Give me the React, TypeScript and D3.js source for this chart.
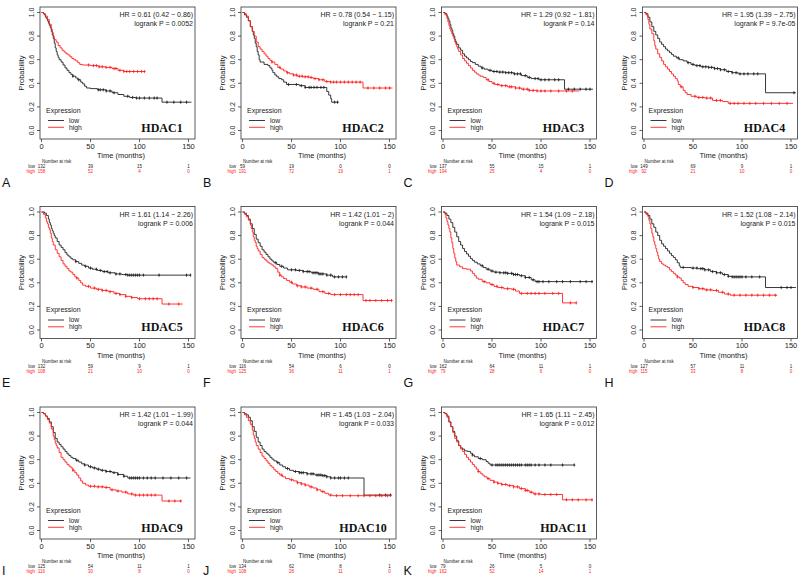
import React from 'react';
import * as d3 from 'd3';

// panel labels and stats
const genes = ['HDAC1', 'HDAC2', 'HDAC3', 'HDAC4', 'HDAC5', 'HDAC6', 'HDAC7', 'HDAC8', 'HDAC9', 'HDAC10', 'HDAC11'];
const letters = ['A', 'B', 'C', 'D', 'E', 'F', 'G', 'H', 'I', 'J', 'K'];
const hrLabels = [
  'HR = 0.61 (0.42 − 0.86)', 'HR = 0.78 (0.54 − 1.15)', 'HR = 1.29 (0.92 − 1.81)', 'HR = 1.95 (1.39 − 2.75)',
  'HR = 1.61 (1.14 − 2.26)', 'HR = 1.42 (1.01 − 2)', 'HR = 1.54 (1.09 − 2.18)', 'HR = 1.52 (1.08 − 2.14)',
  'HR = 1.42 (1.01 − 1.99)', 'HR = 1.45 (1.03 − 2.04)', 'HR = 1.65 (1.11 − 2.45)',
];
const pLabels = [
  'logrank P = 0.0052', 'logrank P = 0.21', 'logrank P = 0.14', 'logrank P = 9.7e-05',
  'logrank P = 0.006', 'logrank P = 0.044', 'logrank P = 0.015', 'logrank P = 0.015',
  'logrank P = 0.044', 'logrank P = 0.033', 'logrank P = 0.012',
];

const xTicks = [0, 50, 100, 150];
const yTicks = [0, 0.2, 0.4, 0.6, 0.8, 1.0];
const riskTimes = [0, 50, 100, 150];

const riskLow = [
  [132, 39, 15, 1], [59, 19, 0, 0], [137, 55, 15, 1], [149, 69, 9, 1],
  [132, 59, 9, 1], [116, 54, 6, 0], [162, 64, 11, 1], [127, 57, 11, 1],
  [125, 54, 11, 1], [134, 62, 8, 1], [79, 26, 5, 0],
];
const riskHigh = [
  [158, 52, 4, 0], [191, 72, 19, 1], [194, 25, 4, 0], [92, 21, 10, 0],
  [108, 21, 10, 0], [125, 36, 11, 1], [79, 28, 6, 0], [115, 33, 8, 0],
  [116, 30, 8, 0], [108, 28, 11, 0], [162, 52, 14, 1],
];

type Pt = [number, number];

// survival steps [month, probability]
const hdac1Low: Pt[] = [[0,1],[2,0.99],[3,0.98],[4,0.96],[5,0.95],[6,0.93],[7,0.91],[8,0.89],[9,0.87],[10,0.84],[11,0.81],[12,0.78],[13,0.74],[14,0.7],[15,0.67],[16,0.64],[17,0.62],[18,0.6],[20,0.58],[22,0.555],[24,0.53],[26,0.51],[28,0.49],[30,0.475],[32,0.46],[35,0.445],[37,0.43],[40,0.41],[42,0.395],[44,0.375],[46,0.36],[50,0.355],[57,0.345],[66,0.335],[72,0.32],[78,0.305],[84,0.29],[90,0.28],[96,0.275],[123,0.24],[153,0.24]];
const hdac1High: Pt[] = [[0,1],[2,0.99],[4,0.97],[6,0.94],[8,0.9],[10,0.86],[11,0.83],[12,0.8],[13,0.77],[15,0.75],[17,0.72],[19,0.7],[21,0.68],[23,0.665],[25,0.65],[27,0.64],[29,0.625],[31,0.61],[33,0.6],[35,0.59],[37,0.575],[39,0.56],[42,0.555],[50,0.55],[58,0.54],[65,0.535],[72,0.525],[78,0.51],[84,0.5],[106,0.5]];
const hdac1LowCens = [32,38,58,60,63,66,70,74,88,93,97,100,105,110,115,118,128,135,142,148];
const hdac1HighCens = [48,53,56,59,62,66,70,74,76,80,84,87,90,94,98,102,105];

const hdac2Low: Pt[] = [[0,1],[2,0.98],[4,0.96],[6,0.93],[8,0.88],[10,0.84],[11,0.81],[12,0.78],[13,0.74],[14,0.71],[15,0.67],[16,0.64],[17,0.6],[18,0.58],[22,0.56],[26,0.55],[28,0.53],[30,0.51],[31,0.49],[33,0.47],[35,0.455],[37,0.44],[40,0.43],[42,0.41],[45,0.39],[58,0.38],[64,0.365],[86,0.33],[88,0.3],[90,0.27],[91,0.24],[98,0.24]];
const hdac2High: Pt[] = [[0,1],[2,0.99],[4,0.97],[6,0.93],[8,0.88],[10,0.84],[12,0.8],[14,0.75],[16,0.71],[18,0.69],[20,0.67],[22,0.65],[24,0.63],[26,0.61],[28,0.595],[30,0.58],[33,0.56],[36,0.535],[39,0.52],[42,0.505],[45,0.49],[48,0.48],[52,0.47],[56,0.46],[62,0.455],[68,0.45],[72,0.44],[78,0.43],[84,0.415],[90,0.41],[123,0.36],[153,0.36]];
const hdac2LowCens = [47,55,60,64,68,70,73,76,80,83,94,97];
const hdac2HighCens = [30,38,46,52,55,58,61,64,67,70,74,78,82,86,90,93,96,100,104,108,112,116,120,128,134,140,146,150];

const hdac3Low: Pt[] = [[0,1],[2,0.99],[4,0.97],[5,0.95],[6,0.93],[7,0.9],[8,0.87],[9,0.85],[10,0.82],[11,0.8],[12,0.77],[13,0.75],[14,0.73],[16,0.7],[18,0.68],[20,0.65],[22,0.63],[24,0.615],[26,0.6],[28,0.585],[30,0.575],[33,0.56],[36,0.545],[39,0.53],[42,0.52],[46,0.51],[50,0.5],[56,0.495],[64,0.49],[72,0.48],[80,0.465],[86,0.45],[90,0.44],[98,0.43],[124,0.35],[153,0.35]];
const hdac3High: Pt[] = [[0,1],[2,0.98],[4,0.95],[5,0.92],[6,0.89],[7,0.86],[8,0.84],[9,0.82],[10,0.8],[11,0.78],[12,0.75],[13,0.73],[14,0.71],[15,0.69],[16,0.67],[18,0.64],[20,0.61],[22,0.59],[24,0.57],[26,0.55],[28,0.53],[30,0.51],[32,0.495],[34,0.48],[36,0.47],[38,0.46],[41,0.45],[44,0.43],[47,0.415],[50,0.4],[53,0.39],[58,0.38],[66,0.37],[74,0.36],[80,0.35],[88,0.34],[96,0.335],[139,0.335]];
const hdac3LowCens = [40,48,52,55,58,61,64,67,70,73,76,79,84,88,94,97,100,104,108,114,118,128,134,140,146,150];
const hdac3HighCens = [46,52,56,60,64,68,70,74,78,82,86,88,92,96,100,104,110,118,126,132];

const hdac4Low: Pt[] = [[0,1],[2,0.99],[4,0.96],[6,0.92],[8,0.88],[10,0.84],[12,0.81],[14,0.78],[16,0.75],[18,0.73],[20,0.71],[22,0.69],[24,0.675],[26,0.66],[28,0.645],[30,0.63],[33,0.615],[36,0.6],[40,0.59],[44,0.575],[48,0.56],[52,0.55],[58,0.54],[66,0.535],[72,0.525],[78,0.515],[84,0.5],[90,0.49],[96,0.48],[124,0.32],[155,0.32]];
const hdac4High: Pt[] = [[0,1],[2,0.98],[4,0.94],[5,0.9],[6,0.86],[8,0.82],[10,0.76],[11,0.72],[12,0.69],[14,0.65],[16,0.62],[18,0.59],[20,0.56],[22,0.54],[24,0.52],[26,0.5],[28,0.48],[30,0.46],[32,0.44],[34,0.42],[35,0.39],[37,0.37],[40,0.34],[42,0.32],[44,0.305],[48,0.29],[54,0.28],[62,0.275],[70,0.255],[80,0.245],[86,0.23],[152,0.23]];
const hdac4LowCens = [35,45,50,54,57,60,63,66,69,72,75,78,82,86,90,94,98,102,106,112,116,153];
const hdac4HighCens = [38,52,56,60,64,68,74,78,88,92,96,102,108,114,122,130,138,146];

const hdac5Low: Pt[] = [[0,1],[3,0.99],[5,0.97],[7,0.94],[8,0.91],[9,0.89],[10,0.86],[11,0.84],[12,0.82],[13,0.8],[14,0.78],[16,0.75],[18,0.72],[20,0.7],[22,0.68],[24,0.655],[26,0.635],[28,0.62],[30,0.605],[32,0.595],[35,0.58],[38,0.565],[41,0.55],[44,0.54],[48,0.525],[52,0.515],[57,0.505],[62,0.495],[68,0.485],[75,0.475],[82,0.47],[88,0.465],[152,0.465]];
const hdac5High: Pt[] = [[0,1],[2,0.98],[4,0.95],[5,0.92],[6,0.9],[7,0.87],[8,0.85],[9,0.82],[10,0.78],[11,0.75],[12,0.72],[14,0.68],[16,0.65],[18,0.62],[20,0.59],[22,0.56],[24,0.54],[26,0.52],[28,0.5],[30,0.49],[32,0.47],[34,0.45],[36,0.44],[38,0.42],[40,0.4],[42,0.38],[45,0.37],[50,0.355],[56,0.345],[62,0.335],[68,0.325],[74,0.31],[80,0.3],[86,0.285],[92,0.275],[98,0.265],[123,0.22],[144,0.22]];
const hdac5LowCens = [35,45,50,56,60,64,67,70,76,80,86,88,90,92,94,96,98,100,104,120,148,152];
const hdac5HighCens = [36,48,54,58,62,66,70,76,80,86,92,100,106,110,114,118,130,140];

const hdac6Low: Pt[] = [[0,1],[2,0.99],[4,0.97],[6,0.94],[8,0.9],[10,0.86],[12,0.81],[14,0.77],[16,0.74],[18,0.71],[20,0.68],[22,0.66],[24,0.64],[26,0.62],[28,0.6],[30,0.585],[32,0.57],[35,0.555],[38,0.54],[42,0.525],[46,0.51],[55,0.505],[62,0.495],[70,0.485],[78,0.475],[86,0.465],[92,0.45],[106,0.45]];
const hdac6High: Pt[] = [[0,1],[2,0.98],[4,0.96],[6,0.93],[8,0.89],[9,0.86],[10,0.83],[11,0.79],[12,0.76],[13,0.74],[14,0.71],[15,0.69],[16,0.67],[18,0.64],[20,0.615],[22,0.6],[24,0.585],[26,0.57],[28,0.56],[30,0.55],[32,0.535],[34,0.52],[36,0.49],[38,0.465],[40,0.45],[42,0.435],[45,0.42],[48,0.405],[51,0.39],[55,0.375],[60,0.365],[66,0.355],[72,0.345],[78,0.325],[84,0.31],[90,0.3],[123,0.25],[153,0.25]];
const hdac6LowCens = [34,40,50,54,58,62,66,68,72,74,76,78,80,82,86,90,94,98,102,106];
const hdac6HighCens = [38,50,56,60,64,70,76,82,88,94,100,106,110,114,118,126,130,136,142,148,152];

const hdac7Low: Pt[] = [[0,1],[2,0.99],[4,0.97],[6,0.94],[8,0.91],[10,0.87],[12,0.83],[14,0.79],[16,0.75],[18,0.72],[20,0.69],[22,0.665],[24,0.645],[26,0.625],[28,0.605],[30,0.59],[32,0.575],[35,0.56],[38,0.545],[41,0.53],[44,0.515],[48,0.5],[52,0.49],[58,0.485],[66,0.48],[72,0.47],[78,0.46],[84,0.445],[90,0.425],[94,0.41],[153,0.41]];
const hdac7High: Pt[] = [[0,1],[2,0.98],[3,0.95],[4,0.92],[5,0.89],[6,0.86],[7,0.83],[8,0.78],[9,0.74],[10,0.69],[11,0.65],[12,0.61],[13,0.58],[14,0.55],[17,0.535],[20,0.52],[24,0.515],[28,0.5],[30,0.48],[32,0.46],[34,0.44],[36,0.43],[40,0.41],[44,0.4],[48,0.385],[52,0.37],[56,0.36],[62,0.35],[70,0.345],[74,0.33],[78,0.31],[122,0.23],[136,0.23]];
const hdac7LowCens = [40,46,50,54,58,62,64,66,70,72,74,76,80,84,88,92,96,98,102,108,116,122,130,140,146,152];
const hdac7HighCens = [42,50,55,60,66,72,80,86,90,94,98,104,112,118,130,136];

const hdac8Low: Pt[] = [[0,1],[2,0.99],[4,0.97],[6,0.94],[8,0.9],[10,0.87],[12,0.83],[14,0.8],[16,0.76],[18,0.73],[20,0.71],[22,0.69],[24,0.67],[26,0.65],[28,0.63],[30,0.615],[32,0.595],[34,0.57],[36,0.545],[37,0.53],[48,0.525],[55,0.52],[62,0.51],[68,0.495],[74,0.485],[80,0.47],[86,0.455],[90,0.45],[124,0.36],[155,0.36]];
const hdac8High: Pt[] = [[0,1],[2,0.98],[4,0.96],[5,0.93],[6,0.9],[7,0.86],[8,0.82],[9,0.79],[10,0.75],[11,0.72],[12,0.69],[13,0.66],[14,0.63],[15,0.6],[16,0.58],[18,0.56],[20,0.55],[22,0.54],[24,0.53],[26,0.51],[28,0.495],[30,0.48],[32,0.465],[34,0.45],[36,0.44],[38,0.42],[40,0.4],[42,0.385],[45,0.37],[50,0.36],[56,0.35],[62,0.34],[70,0.335],[76,0.32],[82,0.305],[88,0.295],[136,0.295]];
const hdac8LowCens = [40,50,54,58,60,62,66,70,74,78,82,86,90,92,94,96,98,100,104,110,118,140,146,150];
const hdac8HighCens = [34,50,56,60,64,68,74,80,86,92,98,104,110,116,122,128,134];

const hdac9Low: Pt[] = [[0,1],[2,0.99],[4,0.97],[6,0.95],[8,0.92],[10,0.88],[12,0.83],[14,0.78],[16,0.75],[18,0.73],[20,0.71],[22,0.69],[24,0.67],[26,0.65],[28,0.635],[30,0.62],[32,0.61],[35,0.595],[38,0.58],[41,0.565],[44,0.555],[48,0.54],[52,0.53],[56,0.52],[60,0.51],[66,0.5],[72,0.49],[78,0.475],[84,0.46],[88,0.445],[152,0.445]];
const hdac9High: Pt[] = [[0,1],[2,0.99],[4,0.97],[6,0.94],[8,0.91],[10,0.86],[12,0.8],[13,0.77],[14,0.74],[15,0.72],[16,0.7],[18,0.66],[20,0.62],[22,0.6],[24,0.58],[26,0.56],[28,0.545],[30,0.53],[32,0.51],[34,0.49],[36,0.47],[38,0.445],[40,0.42],[42,0.4],[45,0.385],[48,0.375],[56,0.37],[64,0.365],[70,0.345],[76,0.335],[82,0.325],[88,0.31],[94,0.3],[123,0.25],[143,0.25]];
const hdac9LowCens = [36,44,50,54,58,62,66,70,74,78,84,90,92,94,96,98,100,104,108,112,116,124,132,140,148];
const hdac9HighCens = [32,50,54,58,62,66,72,78,86,92,96,100,104,108,112,116,130,136,142];

const hdac10Low: Pt[] = [[0,1],[2,0.99],[4,0.98],[6,0.96],[8,0.93],[10,0.88],[12,0.84],[14,0.79],[16,0.75],[18,0.72],[20,0.69],[22,0.67],[24,0.655],[26,0.64],[28,0.62],[30,0.605],[32,0.59],[35,0.575],[38,0.555],[41,0.54],[44,0.525],[48,0.51],[52,0.5],[58,0.49],[66,0.48],[74,0.47],[82,0.465],[86,0.455],[90,0.445],[124,0.3],[152,0.3]];
const hdac10High: Pt[] = [[0,1],[2,0.98],[4,0.96],[6,0.93],[8,0.9],[10,0.85],[11,0.81],[12,0.78],[13,0.75],[14,0.72],[16,0.69],[18,0.66],[20,0.63],[22,0.61],[24,0.59],[26,0.57],[28,0.55],[30,0.535],[32,0.515],[34,0.5],[36,0.485],[38,0.47],[41,0.455],[44,0.44],[48,0.43],[52,0.42],[56,0.405],[60,0.395],[64,0.385],[68,0.37],[72,0.36],[76,0.345],[80,0.33],[84,0.315],[88,0.3],[92,0.295],[152,0.295]];
const hdac10LowCens = [36,46,54,58,60,62,66,70,72,76,78,80,82,84,86,90,94,98,100,104,108,140,146,151];
const hdac10HighCens = [40,50,56,60,64,70,76,82,90,96,102,110,118,124,130,136,142,148];

const hdac11Low: Pt[] = [[0,1],[2,0.99],[4,0.97],[6,0.92],[8,0.88],[10,0.84],[12,0.8],[14,0.76],[16,0.72],[18,0.7],[20,0.69],[22,0.675],[25,0.67],[28,0.655],[30,0.64],[32,0.625],[36,0.61],[40,0.6],[44,0.585],[46,0.57],[48,0.555],[134,0.555]];
const hdac11High: Pt[] = [[0,1],[2,0.99],[4,0.96],[6,0.92],[8,0.88],[10,0.83],[12,0.78],[14,0.75],[16,0.72],[18,0.69],[20,0.67],[22,0.645],[24,0.62],[26,0.6],[28,0.58],[30,0.56],[32,0.54],[34,0.52],[36,0.5],[38,0.485],[40,0.47],[42,0.455],[45,0.44],[48,0.425],[52,0.41],[56,0.4],[60,0.39],[66,0.38],[72,0.37],[78,0.355],[84,0.34],[88,0.325],[92,0.31],[100,0.305],[122,0.26],[153,0.26]];
const hdac11LowCens = [30,38,50,54,56,58,60,62,64,66,68,70,72,74,76,78,80,84,86,88,90,94,98,104,110,122,134];
const hdac11HighCens = [36,46,52,56,60,64,68,72,76,80,84,86,90,94,98,104,110,116,126,132,138,146,152];

const lowCurves = [hdac1Low, hdac2Low, hdac3Low, hdac4Low, hdac5Low, hdac6Low, hdac7Low, hdac8Low, hdac9Low, hdac10Low, hdac11Low];
const highCurves = [hdac1High, hdac2High, hdac3High, hdac4High, hdac5High, hdac6High, hdac7High, hdac8High, hdac9High, hdac10High, hdac11High];
const lowCens = [hdac1LowCens, hdac2LowCens, hdac3LowCens, hdac4LowCens, hdac5LowCens, hdac6LowCens, hdac7LowCens, hdac8LowCens, hdac9LowCens, hdac10LowCens, hdac11LowCens];
const highCens = [hdac1HighCens, hdac2HighCens, hdac3HighCens, hdac4HighCens, hdac5HighCens, hdac6HighCens, hdac7HighCens, hdac8HighCens, hdac9HighCens, hdac10HighCens, hdac11HighCens];

const COL_X = [0, 201, 401.5, 602.5];
const ROW_Y = [0, 199.5, 400];
const LOW_COLOR = '#222';
const HIGH_COLOR = '#ff2020';
const FONT = 'Liberation Sans, Arial, sans-serif';

// value of the step curve at time t
const survAt = (curve: Pt[], t: number) => {
  let s = curve[0][1];
  for (const p of curve) if (p[0] <= t) s = p[1];
  return s;
};

const Panel = ({ i }: { i: number }) => {
  const ox = COL_X[i % 4];
  const oy = ROW_Y[Math.floor(i / 4)];
  const x = d3.scaleLinear().domain([0, 150]).range([41.5, 188.5]);
  const y = d3.scaleLinear().domain([0, 1]).range([130.5, 12.5]);
  const box = { l: 40, r: 195, t: 7, b: 139 };
  const line = d3.line<Pt>().x((d) => x(d[0])).y((d) => y(d[1])).curve(d3.curveStepAfter);

  const curves = [
    { pts: lowCurves[i], cens: lowCens[i], color: LOW_COLOR },
    { pts: highCurves[i], cens: highCens[i], color: HIGH_COLOR },
  ];
  const letterY = Math.min(oy + 187, 574.5) - oy;

  return (
    <g transform={`translate(${ox},${oy})`} fontFamily={FONT}>
      <rect x={box.l} y={box.t} width={box.r - box.l} height={box.b - box.t} fill="none" stroke="#333" strokeWidth={0.8} />
      {yTicks.map((v) => (
        <g key={v}>
          <line x1={box.l - 3} x2={box.l} y1={y(v)} y2={y(v)} stroke="#333" strokeWidth={0.8} />
          <text transform={`translate(31.5,${y(v)}) rotate(-90)`} dy="0.35em" textAnchor="middle" fontSize={7} fill="#222">
            {v.toFixed(1)}
          </text>
        </g>
      ))}
      {xTicks.map((v) => (
        <g key={v}>
          <line x1={x(v)} x2={x(v)} y1={box.b} y2={box.b + 3} stroke="#333" strokeWidth={0.8} />
          <text x={x(v)} y={148.8} textAnchor="middle" fontSize={7.5} fill="#222">{v}</text>
        </g>
      ))}
      <text transform="translate(21.5,73) rotate(-90)" dy="0.35em" textAnchor="middle" fontSize={7.5} fill="#222">Probability</text>
      <text x={121} y={158} textAnchor="middle" fontSize={7.5} fill="#222">Time (months)</text>

      {curves.map((c, k) => (
        <g key={k}>
          <path d={line(c.pts) || ''} fill="none" stroke={c.color} strokeWidth={0.9} />
          {c.cens.map((t, j) => (
            <g key={j} stroke={c.color} strokeWidth={0.8}>
              <line x1={x(t)} x2={x(t)} y1={y(survAt(c.pts, t)) - 1.6} y2={y(survAt(c.pts, t)) + 1.6} />
              <line x1={x(t) - 1} x2={x(t) + 1} y1={y(survAt(c.pts, t))} y2={y(survAt(c.pts, t))} />
            </g>
          ))}
        </g>
      ))}

      <text x={193} y={17.2} textAnchor="end" fontSize={7} fill="#222">{hrLabels[i]}</text>
      <text x={193} y={26} textAnchor="end" fontSize={7} fill="#222">{pLabels[i]}</text>

      <text x={46} y={112.5} fontSize={7} fill="#222">Expression</text>
      <line x1={48} x2={64} y1={120.5} y2={120.5} stroke={LOW_COLOR} strokeWidth={0.9} />
      <text x={69} y={122.8} fontSize={6.8} fill="#222">low</text>
      <line x1={48} x2={64} y1={127.3} y2={127.3} stroke={HIGH_COLOR} strokeWidth={0.9} />
      <text x={69} y={129.8} fontSize={6.8} fill="#222">high</text>

      <text x={162} y={131.8} textAnchor="middle" fontSize={12} fontWeight="bold" fontFamily="Liberation Serif, Times New Roman, serif" fill="#111">
        {genes[i]}
      </text>

      <text x={42} y={163.3} fontSize={4.5} fill="#222">Number at risk</text>
      <text x={35} y={168.3} textAnchor="end" fontSize={4.5} fill={LOW_COLOR}>low</text>
      <text x={35} y={173.3} textAnchor="end" fontSize={4.5} fill={HIGH_COLOR}>high</text>
      {riskTimes.map((t, j) => (
        <g key={t}>
          <text x={x(t)} y={168.3} textAnchor="middle" fontSize={4.5} fill={LOW_COLOR}>{riskLow[i][j]}</text>
          <text x={x(t)} y={173.3} textAnchor="middle" fontSize={4.5} fill={HIGH_COLOR}>{riskHigh[i][j]}</text>
        </g>
      ))}

      <text x={2} y={letterY} fontSize={12.5} fill="#111">{letters[i]}</text>
    </g>
  );
};

export default function App() {
  return (
    <svg width={800} height={578} style={{ position: 'absolute', left: 0, top: 0, background: '#fff' }}>
      <rect width={800} height={578} fill="#fff" />
      {genes.map((g, i) => (
        <Panel key={g} i={i} />
      ))}
    </svg>
  );
}
